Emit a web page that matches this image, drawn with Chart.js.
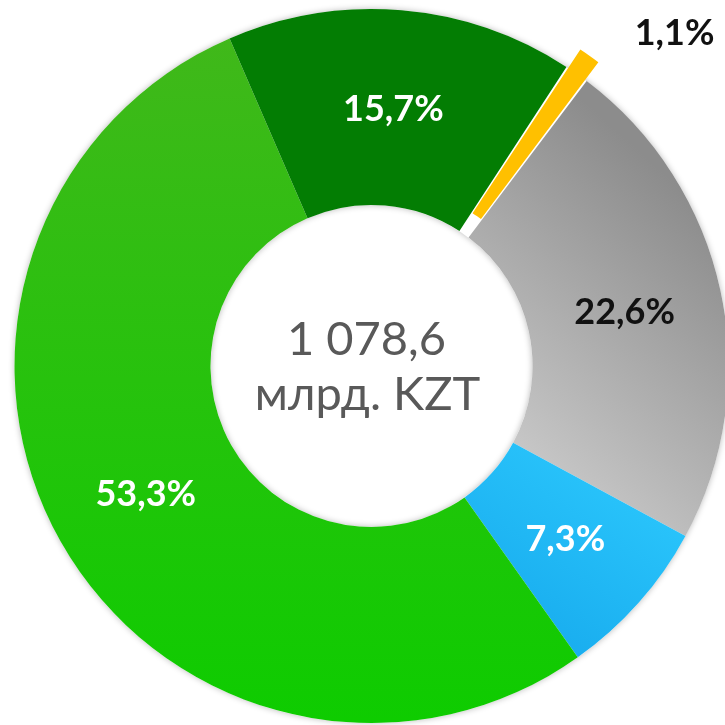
<!DOCTYPE html>
<html>
<head>
<meta charset="utf-8">
<script src="https://cdn.jsdelivr.net/npm/chart.js@4/dist/chart.umd.min.js"></script>
<style>
html,body{margin:0;padding:0;background:#fff;}
#wrap{width:725px;height:725px;position:relative;}
</style>
</head>
<body>
<div id="wrap"><canvas id="c" width="725" height="725"></canvas></div>
<script>
// ---- data ----
const categories = ['Сегмент 1', 'Сегмент 2', 'Сегмент 3', 'Сегмент 4', 'Сегмент 5'];
const values = [1.1, 22.6, 7.3, 53.3, 15.7];
const valueLabels = ['1,1%', '22,6%', '7,3%', '53,3%', '15,7%'];
const centerLines = ['1 078,6', 'млрд. KZT'];

// ---- styles ----
const labelColors = ['#111111', '#111111', '#ffffff', '#ffffff', '#ffffff'];

function segFill(context) {
  const i = context.dataIndex;
  const c = context.chart.ctx;
  if (i === 0) return '#ffc000';
  if (i === 4) return '#037d03';
  if (i === 1) {
    const g = c.createLinearGradient(480, 460, 705, 210);
    g.addColorStop(0, '#cdcdcd');
    g.addColorStop(1, '#8c8c8c');
    return g;
  }
  if (i === 2) {
    const g = c.createLinearGradient(660, 470, 540, 650);
    g.addColorStop(0, '#2cc8fd');
    g.addColorStop(1, '#18acee');
    return g;
  }
  const g = c.createLinearGradient(0, 40, 0, 720);
  g.addColorStop(0, '#40b81a');
  g.addColorStop(1, '#0ecc00');
  return g;
}

const ringShadow = {
  id: 'ringShadow',
  beforeDatasetsDraw(chart) {
    const meta = chart.getDatasetMeta(0);
    const a = meta.data[1];
    if (!a) return;
    const c = chart.ctx;
    c.save();
    c.shadowColor = 'rgba(0,0,0,0.28)';
    c.shadowBlur = 6;
    c.fillStyle = '#ffffff';
    c.beginPath();
    c.arc(a.x, a.y, a.outerRadius, 0, Math.PI * 2);
    c.arc(a.x, a.y, a.innerRadius, 0, Math.PI * 2, true);
    c.closePath();
    c.fill();
    c.restore();
  }
};

const labelsPlugin = {
  id: 'labelsPlugin',
  afterDatasetsDraw(chart) {
    const meta = chart.getDatasetMeta(0);
    const c = chart.ctx;
    c.save();
    c.textAlign = 'center';
    c.textBaseline = 'alphabetic';
    meta.data.forEach((arc, i) => {
      const p = arc.getCenterPoint();
      let x = p.x, y = p.y;
      if (i === 0) { x += 141; y -= 103; }
      c.font = 'bold 36px Lato';
      c.fillStyle = labelColors[i];
      c.fillText(valueLabels[i], x, y + 13);
    });
    // centre text
    const a = meta.data[0];
    const cx = a.x - 5, cy = a.y;
    c.fillStyle = '#595959';
    c.font = '47px Lato';
    c.fillText(centerLines[0], cx, cy - 11);
    c.fillText(centerLines[1], cx + 1, cy + 44);
    c.restore();
  }
};

new Chart(document.getElementById('c'), {
  type: 'doughnut',
  data: {
    labels: categories,
    datasets: [{
      data: values,
      backgroundColor: segFill,
      borderWidth: 0,
      offset: [46, 0, 0, 0, 0]
    }]
  },
  options: {
    responsive: false,
    animation: false,
    rotation: 33.1,
    radius: 357,
    cutout: '45.1%',
    layout: { padding: { left: 18, top: 7, right: 0, bottom: 0 } },
    plugins: {
      legend: { display: false },
      tooltip: { enabled: false }
    }
  },
  plugins: [ringShadow, labelsPlugin]
});
</script>
</body>
</html>
